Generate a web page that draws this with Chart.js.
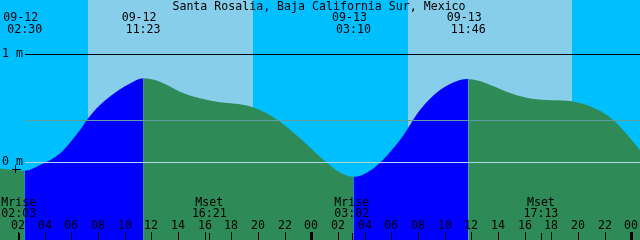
<!DOCTYPE html>
<html>
<head>
<meta charset="utf-8">
<script src="https://cdn.jsdelivr.net/npm/chart.js@4.4.0/dist/chart.umd.min.js"></script>
<style>
  body { margin: 0; background: #00bfff; }
  canvas { display: block; }
</style>
</head>
<body>
<canvas id="tide" width="640" height="240"></canvas>
<script>
const title = "Santa Rosalia, Baja California Sur, Mexico";

// times are hours counted from 09-12 00:00, heights in metres
const tideTimes = [0.65, 2.5, 3.65, 5.15, 6.65, 7.15, 8.15, 9.65, 10.4, 11.383, 12.65, 14.15, 15.65, 17.15, 18.65, 19.63,
  20.65, 21.65, 23.15, 24.65, 26.15, 27.167, 28.65, 30.65, 32.15, 33.65, 35.15, 35.767, 37.15, 38.65,
  40.15, 41.65, 43.15, 44.65, 46.15, 47.15, 48.65];
const tideHeights = [-0.056, -0.078, -0.025, 0.083, 0.299, 0.39, 0.531, 0.676, 0.731, 0.778, 0.746, 0.654, 0.593, 0.556, 0.537, 0.509,
  0.454, 0.376, 0.222, 0.052, -0.093, -0.133, -0.056, 0.206, 0.484, 0.669, 0.762, 0.771, 0.731, 0.654,
  0.598, 0.577, 0.570, 0.531, 0.438, 0.330, 0.114];

// high / low tide marks at the top
const eventTimes = [2.5, 11.383, 27.167, 35.767];
const eventDates = ["09-12", "09-12", "09-13", "09-13"];
const eventClock = ["02:30", "11:23", "03:10", "11:46"];

// moon rise / set at the bottom
const moonTimes = [2.05, 16.35, 27.033, 41.217];
const moonNames = ["Mrise", "Mset", "Mrise", "Mset"];
const moonClock = ["02:03", "16:21", "03:02", "17:13"];

const sunrise = [7.25, 31.25];
const sunset = [19.6, 43.55];

const hourTicks = [2, 4, 6, 8, 10, 12, 14, 16, 18, 20, 22, 24, 26, 28, 30, 32, 34, 36, 38, 40, 42, 44, 46, 48];
const hourLabels = ["02", "04", "06", "08", "10", "12", "14", "16", "18", "20", "22", "00",
  "02", "04", "06", "08", "10", "12", "14", "16", "18", "20", "22", "00"];

const levels = [1, 0.39, 0];
const levelLabels = ["1 m", "", "0 m"];
const levelColors = ["#000000", "#5f9ea0", "#add8e6"];

const FONT = '11.6px "DejaVu Sans Mono"';

const decor = {
  id: 'decor',
  beforeDatasetsDraw(chart) {
    const { ctx, chartArea: a, scales: { x } } = chart;
    ctx.save();
    ctx.fillStyle = '#00bfff';
    ctx.fillRect(a.left, a.top, a.width, a.height);
    ctx.fillStyle = '#87ceeb';
    sunrise.forEach((t, i) => {
      const x0 = Math.round(x.getPixelForValue(t));
      const x1 = Math.round(x.getPixelForValue(sunset[i]));
      ctx.fillRect(x0, a.top, x1 - x0, a.height);
    });
    ctx.restore();
  },
  afterDatasetsDraw(chart) {
    const { ctx, scales: { x, y } } = chart;
    ctx.save();

    // level lines
    levels.forEach((v, i) => {
      const py = Math.round(y.getPixelForValue(v));
      ctx.fillStyle = levelColors[i];
      ctx.fillRect(25, py, 615, 1);
    });

    ctx.fillStyle = '#000';
    ctx.font = FONT;
    ctx.textBaseline = 'alphabetic';
    ctx.textAlign = 'left';
    levels.forEach((v, i) => {
      if (!levelLabels[i]) return;
      const py = Math.round(y.getPixelForValue(v));
      ctx.fillText(levelLabels[i], 2, py + 3);
    });
    // little cross under the 0 m label
    const y0 = Math.round(y.getPixelForValue(0));
    ctx.fillRect(15, y0 + 3, 1, 8);
    ctx.fillRect(12, y0 + 7, 9, 1);

    ctx.textAlign = 'center';
    ctx.fillText(title, 319, 10);

    eventTimes.forEach((t, i) => {
      const px = x.getPixelForValue(t);
      ctx.fillText(eventDates[i], px - 4, 21);
      ctx.fillText(eventClock[i], px, 33);
    });

    moonTimes.forEach((t, i) => {
      const px = x.getPixelForValue(t);
      ctx.fillText(moonNames[i], px, 206);
      ctx.fillText(moonClock[i], px, 217);
      ctx.fillRect(Math.round(px), 233, 1, 7);
    });

    hourTicks.forEach((t, i) => {
      const px = Math.round(x.getPixelForValue(t));
      ctx.fillText(hourLabels[i], px, 229);
      if (t % 24 === 0) ctx.fillRect(px - 1, 232, 3, 8);
      else ctx.fillRect(px, 232, 1, 8);
    });

    ctx.restore();
  }
};

new Chart(document.getElementById('tide'), {
  type: 'line',
  data: {
    datasets: [{
      data: tideTimes.map((t, i) => ({ x: t, y: tideHeights[i] })),
      fill: 'start',
      backgroundColor: '#2e8b57',
      borderWidth: 0,
      borderColor: 'rgba(0,0,0,0)',
      pointRadius: 0,
      cubicInterpolationMode: 'monotone',
      segment: {
        backgroundColor: c => c.p1.parsed.y > c.p0.parsed.y ? '#0000ff' : '#2e8b57'
      }
    }]
  },
  options: {
    responsive: false,
    animation: false,
    devicePixelRatio: 1,
    layout: { padding: 0 },
    plugins: { legend: { display: false }, tooltip: { enabled: false } },
    scales: {
      x: { type: 'linear', min: 0.65, max: 48.65, display: false },
      y: { min: -0.719, max: 1.503, display: false }
    }
  },
  plugins: [decor]
});
</script>
</body>
</html>
